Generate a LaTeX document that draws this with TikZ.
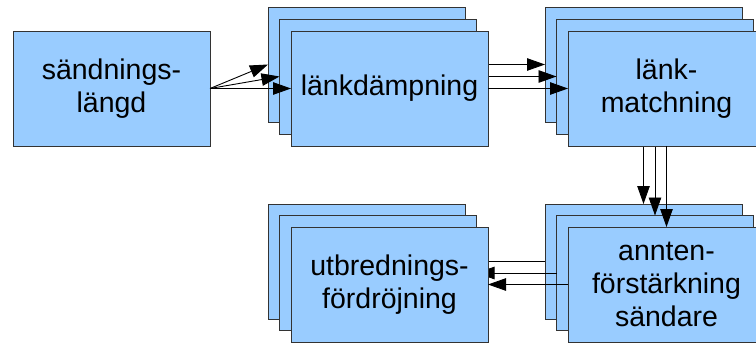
\documentclass[tikz,border=0pt]{standalone}
\usepackage{fontspec}
\setmainfont{Liberation Sans}
\usetikzlibrary{arrows.meta}
\definecolor{boxfill}{HTML}{99CCFF}
\definecolor{boxline}{HTML}{333333}
\tikzset{
  blk/.style={draw=boxline, fill=boxfill, line width=0.9pt, anchor=north west,
    minimum width=197pt, minimum height=115pt, inner sep=0pt, outer sep=0pt,
    align=center, font=\fontsize{28.5}{33}\selectfont},
  arr/.style={draw=black, line width=0.9pt, -{Triangle[length=18pt,width=12.5pt]}}
}
\begin{document}
\begin{tikzpicture}[x=1pt,y=-1pt]
\path[use as bounding box, clip] (0,0) rectangle (756,343);
% back layer
\node[blk] (sl) at (13,31) {sändnings-\\längd};
\node[blk] (ld1) at (268,7) {};
\node[blk] (lm1) at (545,7) {};
\node[blk] (ub1) at (268,204) {};
\node[blk] (af1) at (545,204) {};
\draw[arr] (sl.east) -- (ld1.west);
\draw[arr] (ld1.east) -- (lm1.west);
\draw[arr] (lm1.south) -- (af1.north);
\draw[arr] (af1.west) -- (ub1.east);
% middle layer
\node[blk] (ld2) at (279.5,19) {};
\node[blk] (lm2) at (556.5,19) {};
\node[blk] (ub2) at (279.5,215.5) {};
\node[blk] (af2) at (556.5,215.5) {};
\draw[arr] (sl.east) -- (ld2.west);
\draw[arr] (ld2.east) -- (lm2.west);
\draw[arr] (lm2.south) -- (af2.north);
\draw[arr] (af2.west) -- (ub2.east);
% front layer
\node[blk] (ld3) at (291,31) {länkdämpning};
\node[blk] (lm3) at (568,31) {länk-\\matchning};
\node[blk] (ub3) at (291,227) {utbrednings-\\fördröjning};
\node[blk] (af3) at (568,227) {annten-\\förstärkning\\sändare};
\draw[arr] (sl.east) -- (ld3.west);
\draw[arr] (ld3.east) -- (lm3.west);
\draw[arr] (lm3.south) -- (af3.north);
\draw[arr] (af3.west) -- (ub3.east);
\end{tikzpicture}
\end{document}
